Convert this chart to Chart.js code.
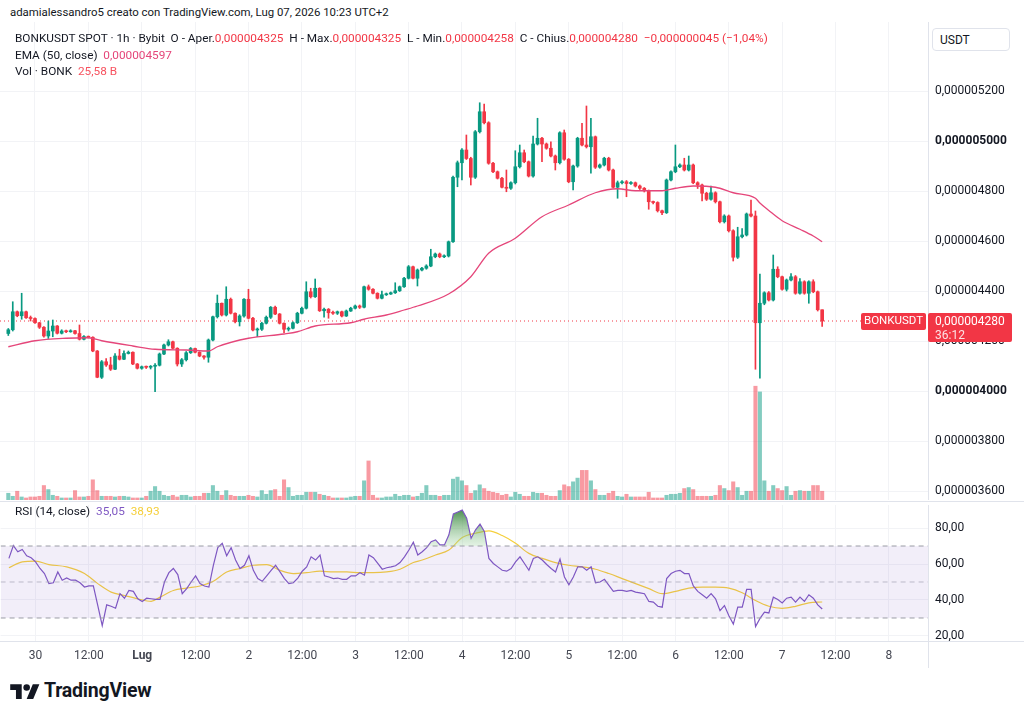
<!DOCTYPE html>
<html>
<head>
<meta charset="utf-8">
<script src="https://cdn.jsdelivr.net/npm/chart.js@4.4.1/dist/chart.umd.min.js"></script>
<style>
  body { margin: 0; width: 1024px; height: 720px; overflow: hidden; background: #fff; position: relative;
         font-family: Roboto, "Noto Sans", sans-serif; color: #131722; }
  .abs { position: absolute; }
  #wm { left: 10px; top: 5px; font-size: 11.4px; }
  #legend { left: 15px; top: 30px; font-size: 11.8px; line-height: 16.5px; z-index: 2; }
  #legend .dn { color: #f23645; }
  #legend .ema { color: #e5467a; }
  #legend .vol { color: #f7525f; }
  #rsiLegend { left: 15px; top: 504px; font-size: 11.8px; z-index: 2; }
  #mainWrap { left: 0; top: 22px; width: 1024px; height: 478px; }
  #rsiWrap { left: 0; top: 502px; width: 1024px; height: 170px; }
  #usdt { left: 932px; top: 28px; width: 78px; height: 23px; border: 1px solid #e0e3eb; border-radius: 4px;
          font-size: 12px; line-height: 23px; padding-left: 7px; box-sizing: border-box; background: #fff; z-index: 2; }
  .sep { background: #e0e3eb; }
  #logo { left: 10px; top: 681px; }
  #logoText { left: 44px; top: 679px; font-size: 19.5px; font-weight: 700; letter-spacing: -0.2px; }
</style>
</head>
<body>
<div id="wm" class="abs">adamialessandro5 creato con TradingView.com, Lug 07, 2026 10:23 UTC+2</div>
<div id="mainWrap" class="abs"><canvas id="main"></canvas></div>
<div id="rsiWrap" class="abs"><canvas id="rsi"></canvas></div>
<div class="abs sep" style="left:0;top:501px;width:1024px;height:1px"></div>
<div class="abs sep" style="left:928px;top:641px;width:96px;height:1px"></div>
<div class="abs sep" style="left:928px;top:641px;width:1px;height:27px"></div>
<div id="legend" class="abs">
  <div>BONKUSDT SPOT · 1h · Bybit&nbsp; O - Aper.<span class="dn">0,000004325</span>&nbsp; H - Max.<span class="dn">0,000004325</span>&nbsp; L - Min.<span class="dn">0,000004258</span>&nbsp; C - Chius.<span class="dn">0,000004280</span>&nbsp; <span class="dn">−0,000000045 (−1,04%)</span></div>
  <div>EMA (50, close)&nbsp; <span class="ema">0,000004597</span></div>
  <div>Vol · BONK&nbsp; <span class="vol">25,58 B</span></div>
</div>
<div id="rsiLegend" class="abs">RSI (14, close)&nbsp; <span style="color:#7e57c2">35,05</span>&nbsp; <span style="color:#f5cf3b">38,93</span></div>
<div id="usdt" class="abs">USDT</div>
<svg id="logo" class="abs" width="30" height="23" viewBox="0 0 36 28">
  <path d="M14 22H7V11H0V4h14v18zM28 22h-8l7.5-18h8L28 22z" fill="#131722"/>
  <circle cx="20" cy="8" r="4" fill="#131722"/>
</svg>
<div id="logoText" class="abs">TradingView</div>

<script>
// hourly candles, price in units of 1e-9 USDT, hour 0 = 30 Jun 00:00
const firstHour = -6;
const firstOpen = 4230;

const closes = [
  4245,4317,4301,4317,4293,4290,4273,4255,4220,4240, 4260,4231,4240,4237,4241,4230,4207,4218,4215,4160,
  4055,4117,4104,4087,4140,4127,4150,4155,4108,4091, 4097,4095,4099,4103,4148,4184,4197,4171,4108,4125,
  4153,4170,4155,4140,4135,
  4204,4297,4351,4304,4367,4311,4277,4300,4367,4291, 4244,4247,4271,4295,4335,4308,4271,4247,4251,4273,
  4311,4331,4397,4377,4411,4321,4327,4313,4311,4317, 4300,4320,4331,4340,4335,4417,4407,4391,4371,4385,
  4388,4393,4401,4417,4451,
  4497,4451,4484,4491,4500,4537,4548,4537,4540,4597, 4855,4913,4964,4930,4855,5037,5117,5073,4911,4877,
  4851,4815,4811,4833,4897,4953,4917,4860,4988,5011, 4988,4971,4940,4913,5033,4927,4837,4900,5011,4984,
  4977,5017,4895,4904,4931,4884,4815,
  4833,4837,4830,4833,4820,4811,4801,4757,4754,4721, 4713,4844,4877,4897,4904,4884,4904,4833,4824,4791,
  4767,4793,4757,4677,4700,4641,4535,4617,4624,4708, 4700,4273,4351,4393,4364,4487,4457,4407,4444,4457,
  4391,4437,4391,4437,4397,4325,4280
];
const highs = [
  4250,4357,4320,4391,4320,4300,4293,4275,4258,4280, 4284,4262,4245,4244,4245,4243,4264,4222,4220,4217,
  4162,4122,4130,4135,4150,4167,4161,4160,4157,4110, 4100,4100,4102,4110,4152,4188,4205,4200,4173,4130,
  4158,4174,4172,4157,4142,
  4208,4300,4384,4352,4417,4372,4313,4305,4370,4407, 4295,4252,4275,4300,4338,4340,4310,4273,4256,4277,
  4315,4336,4437,4411,4448,4413,4332,4330,4320,4320, 4320,4324,4335,4344,4344,4420,4424,4410,4393,4400,
  4392,4396,4433,4420,4455,
  4502,4500,4488,4495,4505,4567,4552,4552,4545,4600, 4860,4920,4970,5024,4935,5042,5153,5148,5077,4915,
  4880,4855,4884,4837,4961,4984,4964,4920,5020,5091, 5015,4992,4997,4944,5037,5044,4930,4904,5015,5071,
  5140,5091,5020,4908,4935,4935,4888,
  4840,4842,4842,4838,4836,4824,4814,4804,4760,4757, 4724,4848,4881,4984,4909,4931,4940,4908,4837,4828,
  4795,4820,4797,4760,4705,4704,4645,4655,4650,4712, 4764,4720,4468,4397,4398,4544,4497,4460,4448,4470,
  4462,4450,4441,4441,4445,4400,4325
];
const lows = [
  4222,4240,4297,4287,4290,4280,4270,4250,4215,4210, 4217,4228,4228,4233,4235,4227,4204,4204,4212,4157,
  4053,4050,4098,4082,4085,4124,4125,4148,4105,4088, 4087,4090,4088,3997,4100,4145,4180,4168,4100,4098,
  4120,4150,4152,4137,4127,
  4115,4200,4292,4300,4300,4308,4272,4260,4295,4288, 4240,4217,4242,4268,4290,4305,4268,4233,4240,4248,
  4270,4308,4328,4372,4374,4318,4295,4291,4306,4306, 4296,4298,4318,4328,4330,4332,4403,4388,4368,4368,
  4382,4386,4390,4398,4414,
  4448,4448,4420,4480,4487,4497,4533,4533,4533,4536, 4594,4817,4844,4926,4824,4850,5032,5068,4907,4873,
  4848,4812,4797,4806,4828,4892,4913,4856,4855,4984, 4917,4967,4936,4884,4908,4923,4833,4804,4895,4980,
  4972,4871,4890,4891,4900,4880,4812,
  4771,4828,4777,4826,4816,4806,4796,4727,4748,4716, 4705,4710,4840,4873,4893,4880,4880,4829,4810,4760,
  4762,4763,4752,4672,4672,4636,4520,4530,4612,4620, 4696,4087,4051,4345,4360,4360,4453,4403,4400,4440,
  4387,4387,4387,4351,4393,4320,4258
];
// volume in billions of BONK
const volumes = [
  20,11,26,9,6,9,9,11,43,31, 14,11,6,6,6,28,9,9,11,60, 28,11,11,11,9,11,11,9,6,6,
  6,11,26,40,26,14,11,14,9,14, 14,9,11,11,20,
  20,43,26,14,28,14,11,11,11,14, 11,9,28,17,28,31,11,60,37,11, 14,14,23,23,23,17,14,11,6,6,
  6,6,9,11,11,57,116,14,6,6, 9,9,17,11,14,
  14,9,11,20,43,14,14,11,14,14, 62,68,57,43,20,28,45,34,26,23, 20,14,17,9,23,17,11,11,23,20,
  20,14,11,11,28,45,40,54,65,88, 88,57,31,14,14,20,26,
  11,9,17,9,9,9,9,23,6,6, 6,14,17,17,20,34,37,31,11,11, 11,11,14,43,34,28,54,37,14,26,
  26,338,321,57,26,43,34,28,40,14, 26,28,26,26,43,43,26
];

const emaHours  = [-6,0,7,12,15,22,27,34,39,41,48,56,59,63,71,74,79,83,86,93,98,102,108,114,120,126,131,135,141,144,148,153,157,162,163,165,168,172,175,177];
const emaValues = [4177,4201,4211,4213,4201,4180,4167,4164,4160,4177,4211,4228,4237,4260,4273,4287,4304,4324,4340,4388,4457,4551,4611,4697,4744,4793,4809,4801,4801,4811,4820,4815,4793,4771,4752,4722,4681,4647,4620,4597];

// RSI (14) per candle
const rsiValues = [
  63.1,70.2,66.8,68.1,64.6,63.5,61.2,57.5,54.7,49.1, 49.6,55.6,51.0,52.2,51.0,51.0,49.6,47.2,47.8,47.8,
  36.9,25.7,37.3,36.5,35.4,43.5,41.0,45.3,44.8,40.7, 39.2,41.0,40.7,40.3,40.3,50.0,55.2,57.5,54.1,43.5,
  46.3,50.0,53.4,49.1,47.8,47.2,59.3,69.1,71.5,64.6, 69.1,62.2,57.5,59.3,64.6,56.5,51.9,50.4,53.4,56.5,
  59.3,55.6,51.9,49.1,49.6,52.2,56.0,58.4,64.0,62.2, 65.0,53.4,52.8,51.9,52.2,51.5,51.5,53.4,53.4,55.2,
  53.8,65.0,63.5,60.3,57.1,57.9,58.4,59.0,60.8,64.0, 67.8,72.1,65.0,
  66.8,69.1,72.4,73.4,70.6,70.6,76.2,87.8,88.9,90.0, 85.5,74.3,79.0,82.2,78.0,63.1,60.3,58.4,56.5,56.0,
  57.5,61.2,64.0,60.3,56.5,63.1,64.0,62.2,59.7,57.5, 55.6,62.7,52.8,48.5,52.8,58.4,58.4,56.5,58.4,49.6,
  50.0,51.5,48.1,44.8,45.3,45.3,44.8,45.3,44.4,44.0, 43.5,39.2,38.8,36.5,36.0,51.9,54.7,56.0,56.5,54.7,
  54.7,47.8,44.8,42.9,41.0,43.5,40.7,34.1,36.9,31.3, 26.6,36.0,36.0,45.9,45.9,25.3,29.8,33.2,32.8,41.6,
  40.3,38.4,41.0,41.6,38.8,41.6,39.2,42.9,41.0,37.3, 35.0
];
const maHours  = [-6,-3,0,3,7,11,14,17,20,23,26,28,31,34,37,40,43,46,49,52,55,58,61,64,67,70,73,76,79,82,85,87,90,93,96,99,102,105,108,111,114,117,120,123,126,129,132,135,138,141,144,147,150,153,156,159,162,165,168,171,174,177];
const maValues = [57.9,61.2,61.6,59.7,58.4,54.7,49.1,44.4,42.5,40.7,39.2,41.6,45.3,46.6,47.8,50.4,55.6,57.5,59.3,59.7,56.5,54.7,55.2,56.0,55.6,55.6,55.2,55.2,55.6,57.1,60.8,62.2,65.0,67.8,74.7,77.1,78.4,75.8,71.5,65.9,63.1,60.8,59.3,58.4,57.1,54.7,51.9,49.1,46.3,43.5,44.8,46.6,47.2,47.2,46.6,44.0,39.7,36.5,35.4,36.5,38.4,38.9];

const priceTicks = [3600,3800,4000,4200,4400,4600,4800,5000,5200];
const boldPrices = [4000,5000];
const rsiTicks = [20,40,60,80];
const tickHours  = [0,12,24,36,48,60,72,84,96,108,120,132,144,156,168,180,192];
const tickLabels = ['30','12:00','Lug','12:00','2','12:00','3','12:00','4','12:00','5','12:00','6','12:00','7','12:00','8'];

const FONT = 'Roboto, "Noto Sans", sans-serif';
const TEXT = '#131722';
const TIME_TEXT = '#434651';
const GRID = '#f2f3f6';
const LINE = '#e0e3eb';
const UP = '#089981', DOWN = '#f23645';
const X_MIN = -7.87, X_MAX = 200.8;
const AXIS_W = 96;

const opens = closes.map((c, i) => i === 0 ? firstOpen : closes[i - 1]);
const hours = closes.map((c, i) => firstHour + i);
const isUp = closes.map((c, i) => c >= opens[i]);
const lastClose = closes[closes.length - 1];

const priceLabel = v => '0,' + String(Math.round(v)).padStart(9, '0');

const lastPricePlugin = {
  id: 'lastPrice',
  afterDraw(chart) {
    const ctx = chart.ctx;
    const py = chart.scales.y.getPixelForValue(lastClose);
    const r = chart.chartArea.right;
    ctx.save();
    ctx.fillStyle = DOWN;
    ctx.beginPath(); ctx.roundRect(r - 67, py - 8, 65, 17, 2); ctx.fill();
    ctx.beginPath(); ctx.roundRect(r, py - 8, 84, 29, 2); ctx.fill();
    ctx.fillStyle = '#fff';
    ctx.textBaseline = 'middle';
    ctx.font = '11.5px ' + FONT;
    ctx.textAlign = 'center';
    ctx.fillText('BONKUSDT', r - 34.5, py + 0.5);
    ctx.textAlign = 'left';
    ctx.font = '12px ' + FONT;
    ctx.fillText(priceLabel(lastClose), r + 7, py + 0.5);
    ctx.fillStyle = 'rgba(255,255,255,0.85)';
    ctx.fillText('36:12', r + 7, py + 14.5);
    ctx.restore();
  }
};

const mainChart = new Chart(document.getElementById('main'), {
  type: 'bar',
  data: {
    datasets: [
      {
        type: 'line', order: 1,
        data: emaHours.map((h, i) => ({ x: h, y: emaValues[i] })),
        borderColor: '#e5467a', borderWidth: 1.3, pointRadius: 0,
        cubicInterpolationMode: 'monotone'
      },
      {
        order: 2, yAxisID: 'y',
        data: hours.map((h, i) => ({ x: h, y: [opens[i], closes[i]] })),
        backgroundColor: isUp.map(u => u ? UP : DOWN),
        barThickness: 3, minBarLength: 1
      },
      {
        order: 3, yAxisID: 'y',
        data: hours.map((h, i) => ({ x: h, y: [lows[i], highs[i]] })),
        backgroundColor: isUp.map(u => u ? UP : DOWN),
        barThickness: 1
      },
      {
        type: 'line', order: 4,
        data: [{ x: X_MIN, y: lastClose }, { x: X_MAX, y: lastClose }],
        borderColor: DOWN, borderWidth: 1, borderDash: [1, 3], pointRadius: 0
      },
      {
        order: 5, yAxisID: 'vol',
        data: hours.map((h, i) => ({ x: h, y: volumes[i] })),
        backgroundColor: isUp.map(u => u ? 'rgba(8,153,129,0.5)' : 'rgba(242,54,69,0.5)'),
        barThickness: 3.4
      }
    ]
  },
  options: {
    animation: false,
    responsive: true,
    maintainAspectRatio: false,
    events: [],
    layout: { padding: 0 },
    datasets: { bar: { grouped: false } },
    plugins: { legend: { display: false }, tooltip: { enabled: false } },
    scales: {
      x: {
        type: 'linear', min: X_MIN, max: X_MAX, offset: false,
        afterBuildTicks: s => { s.ticks = tickHours.map(v => ({ value: v })); },
        afterFit: s => { s.height = 0; s.paddingLeft = 0; s.paddingRight = 0; },
        ticks: { display: false },
        grid: { color: GRID, drawTicks: false, offset: false },
        border: { color: LINE }
      },
      y: {
        position: 'right', min: 3564, max: 5476,
        afterBuildTicks: s => { s.ticks = priceTicks.map(v => ({ value: v })); },
        afterFit: s => { s.width = AXIS_W; s.paddingTop = 0; s.paddingBottom = 0; },
        ticks: {
          padding: 7, color: TEXT,
          font: c => ({ family: FONT, size: 12, weight: c.tick && boldPrices.includes(c.tick.value) ? 'bold' : 'normal' }),
          callback: v => priceLabel(v)
        },
        grid: { color: GRID, drawTicks: false },
        border: { color: LINE }
      },
      vol: { display: false, min: 0, max: 1420 }
    }
  },
  plugins: [lastPricePlugin]
});

const levelLine = v => [{ x: X_MIN, y: v }, { x: X_MAX, y: v }];

const rsiChart = new Chart(document.getElementById('rsi'), {
  type: 'line',
  data: {
    datasets: [
      { data: levelLine(70), borderColor: '#9a9ca5', borderDash: [5, 4], borderWidth: 1, pointRadius: 0, fill: false },
      { data: levelLine(30), borderColor: '#9a9ca5', borderDash: [5, 4], borderWidth: 1, pointRadius: 0,
        fill: '-1', backgroundColor: 'rgba(126,87,194,0.1)' },
      { data: levelLine(50), borderColor: 'rgba(154,156,165,0.6)', borderDash: [5, 4], borderWidth: 1, pointRadius: 0, fill: false },
      {
        data: hours.map((h, i) => ({ x: h, y: rsiValues[i] })),
        borderColor: '#7e57c2', borderWidth: 1.2, pointRadius: 0,
        fill: { target: { value: 70 }, above: 'rgba(67,160,71,0.5)', below: 'rgba(0,0,0,0)' }
      },
      {
        data: maHours.map((h, i) => ({ x: h, y: maValues[i] })),
        borderColor: '#f5cf3b', borderWidth: 1.2, pointRadius: 0, fill: false,
        cubicInterpolationMode: 'monotone'
      }
    ]
  },
  options: {
    animation: false,
    responsive: true,
    maintainAspectRatio: false,
    events: [],
    layout: { padding: { top: 3 } },
    plugins: { legend: { display: false }, tooltip: { enabled: false } },
    scales: {
      x: {
        type: 'linear', min: X_MIN, max: X_MAX, offset: false,
        afterBuildTicks: s => { s.ticks = tickHours.map(v => ({ value: v })); },
        afterFit: s => { s.height = 31; s.paddingLeft = 0; s.paddingRight = 0; },
        ticks: {
          padding: 8, color: TIME_TEXT, autoSkip: false, maxRotation: 0,
          font: c => ({ family: FONT, size: 12, weight: tickLabels[c.index] === 'Lug' ? 'bold' : 'normal' }),
          callback: (v, i) => tickLabels[i]
        },
        grid: { color: GRID, drawTicks: false },
        border: { color: LINE }
      },
      y: {
        position: 'right', min: 17.22, max: 92.78,
        afterBuildTicks: s => { s.ticks = rsiTicks.map(v => ({ value: v })); },
        afterFit: s => { s.width = AXIS_W; s.paddingTop = 0; s.paddingBottom = 0; },
        ticks: {
          padding: 7, color: TEXT, font: { family: FONT, size: 12 },
          callback: v => v.toFixed(2).replace('.', ',')
        },
        grid: { color: GRID, drawTicks: false },
        border: { color: LINE }
      }
    }
  }
});

// green gradient for the overbought area, built from the RSI scale
const ys = rsiChart.scales.y;
const grad = rsiChart.ctx.createLinearGradient(0, ys.getPixelForValue(90), 0, ys.getPixelForValue(70));
grad.addColorStop(0, 'rgba(46,125,50,0.85)');
grad.addColorStop(1, 'rgba(165,214,167,0.3)');
rsiChart.data.datasets[3].fill = { target: { value: 70 }, above: grad, below: 'rgba(0,0,0,0)' };
rsiChart.update();
</script>
</body>
</html>
